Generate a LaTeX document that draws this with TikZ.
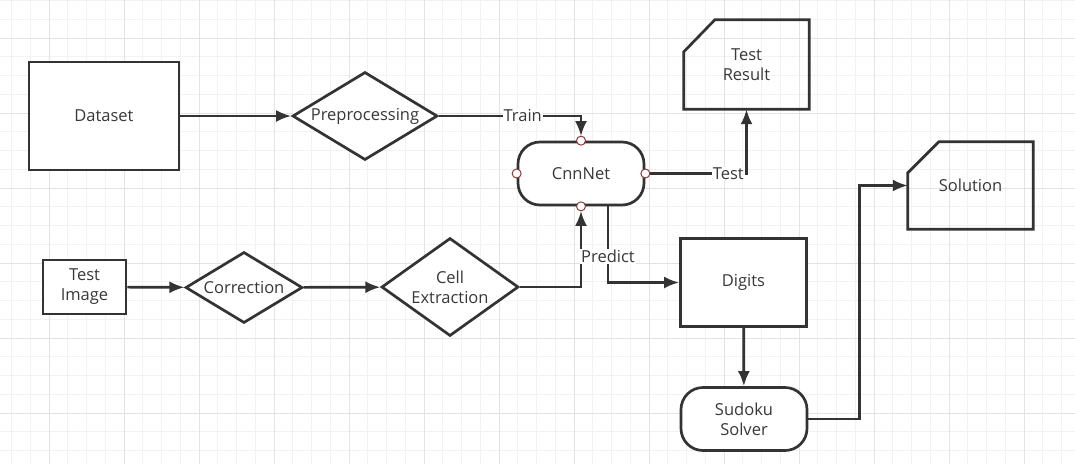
\documentclass[tikz,border=0pt]{standalone}
\usepackage{fontspec}
\setmainfont{Open Sans}
\usepackage{tikz}
\usetikzlibrary{arrows.meta}
\usetikzlibrary{shapes.geometric}

\definecolor{ink}{HTML}{333333}
\definecolor{txt}{HTML}{383838}
\definecolor{minorgrid}{HTML}{F2F2F2}
\definecolor{majorgrid}{HTML}{E3E3E3}
\definecolor{port}{HTML}{8C3C3C}

\tikzset{
    shape base/.style={draw=ink, line width=2.7pt, fill=white, text=txt,
        align=center, inner sep=1pt, font=\fontsize{16.5}{20}\selectfont},
    box/.style={shape base, rectangle},
    decision/.style={shape base, diamond},
    terminal/.style={shape base, rectangle, rounded corners=22pt},
    card/.style={text=txt, align=center, font=\fontsize{16.5}{20}\selectfont},
    link/.style={draw=ink, line width=2.7pt, -{Latex[length=15pt,width=12pt]}},
    tag/.style={fill=white, text=txt, inner sep=1pt, font=\fontsize{16.5}{18}\selectfont},
    portdot/.style={circle, draw=port, fill=white, line width=1pt,
        inner sep=0pt, minimum size=9pt}
}

\begin{document}
\begin{tikzpicture}[x=1pt,y=-1pt]
        \useasboundingbox (0,0) rectangle (1075,464);
        % Grid
        \fill [white] (0,0) rectangle (1075,464);
        \foreach \x in {0,...,57}
            \draw [minorgrid,line width=1pt] (11.5+18.75*\x,0) -- (11.5+18.75*\x,464);
        \foreach \y in {0,...,24}
            \draw [minorgrid,line width=1pt] (0,0.5+18.75*\y) -- (1075,0.5+18.75*\y);
        \foreach \x in {0,...,13}
            \draw [majorgrid,line width=1pt] (49+75*\x,0) -- (49+75*\x,464);
        \foreach \y in {0,...,6}
            \draw [majorgrid,line width=1pt] (0,38+75*\y) -- (1075,38+75*\y);

        % Boxes
        \node [box, minimum width=150pt, minimum height=108pt] (data) at (104,116) {Dataset};
        \node [decision, aspect=1.65, minimum width=145pt, minimum height=88pt] (prep) at (365,116) {Preprocessing};
        \node [terminal, minimum width=126pt, minimum height=63pt] (net) at (581,173.5) {CnnNet};
        \node [box, minimum width=83pt, minimum height=54pt] (img) at (84.5,287) {Test\\Image};
        \node [decision, aspect=1.65, minimum width=117pt, minimum height=71pt] (corr) at (244,287.5) {Correction};
        \node [decision, aspect=1.4, minimum width=137pt, minimum height=98pt] (cell) at (450,287) {Cell\\Extraction};
        \node [box, minimum width=126pt, minimum height=88pt] (digits) at (743.5,282.5) {Digits};
        \node [terminal, minimum width=126pt, minimum height=63pt] (solver) at (744,419) {Sudoku\\Solver};

        % Cut-corner cards
        \node [card, minimum width=125pt, minimum height=89pt] (res) at (746.5,64.5) {Test\\Result};
        \draw [ink,line width=2.7pt,line join=miter] (res.north east) -- (res.south east)
            -- (res.south west) -- ([yshift=-32pt]res.north west)
            -- ([xshift=31pt]res.north west) -- cycle;
        \node [card, minimum width=125pt, minimum height=87pt] (sol) at (970.5,185.5) {Solution};
        \draw [ink,line width=2.7pt,line join=miter] (sol.north east) -- (sol.south east)
            -- (sol.south west) -- ([yshift=-31pt]sol.north west)
            -- ([xshift=31pt]sol.north west) -- cycle;

        % Connectors
        \draw [link] (data) -- (prep);
        \draw [link, shorten >=4.5pt] (prep.east) -| node [tag, pos=0.295] {Train} (net.north);
        \draw [link] (net.east) -| node [tag, pos=0.41] {Test} (res.south);
        \draw [link, shorten >=4.5pt] (cell.east) -| (net.south);
        \draw [link] ([xshift=27pt]net.south) |- node [tag, pos=0.33] {Predict} (digits.west);
        \draw [link] (img) -- (corr);
        \draw [link] (corr) -- (cell);
        \draw [link] (digits) -- (solver);
        \draw [link] (solver.east) -- ++(51,0) |- (sol.west);

        % Ports
        \foreach \a in {north,south,east,west}
            \node [portdot] at (net.\a) {};
    \end{tikzpicture}
\end{document}
